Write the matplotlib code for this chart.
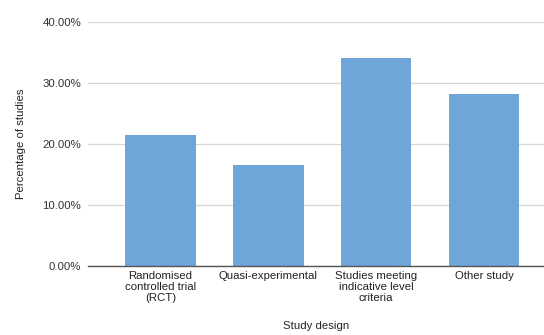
import matplotlib
matplotlib.use("Agg")
import matplotlib.pyplot as plt
from matplotlib.ticker import PercentFormatter

plt.rcParams['font.family'] = ['Liberation Sans', 'DejaVu Sans']

designs = ["Randomised\ncontrolled trial\n(RCT)", "Quasi-experimental",
           "Studies meeting\nindicative level\ncriteria", "Other study"]
share = [21.4, 16.5, 34.0, 28.1]
yticks = [0, 10, 20, 30, 40]

W, H = 544, 335
fig = plt.figure(figsize=(W / 100, H / 100), dpi=100)
# axes box in pixels: left 88, right 544, bottom 266 (from top), top 21.7
ax = fig.add_axes([88 / W, (H - 265.7) / H, (544 - 88) / W, (265.7 - 21.7) / H])

x = range(len(share))
ax.bar(x, share, width=0.654, color="#6fa6da", zorder=3)

ax.set_ylim(0, 40)
ax.set_xlim(-0.673, 3.557)
ax.set_yticks(yticks)
ax.yaxis.set_major_formatter(PercentFormatter(decimals=2))
ax.set_xticks(list(x))
ax.set_xticklabels(designs, fontsize=8.2, color="#222222", linespacing=1.12)
ax.tick_params(axis="y", labelsize=8.2, labelcolor="#333333", length=0, pad=5)
ax.tick_params(axis="x", length=0, pad=4)

ax.grid(axis="y", color="#d6d6d6", linewidth=0.9, zorder=0)
for side in ("top", "right", "left"):
    ax.spines[side].set_visible(False)
ax.spines["bottom"].set_color("#555555")
ax.spines["bottom"].set_linewidth(1.0)
ax.spines["bottom"].set_zorder(4)

ax.set_ylabel("Percentage of studies", fontsize=8.2, color="#222222", labelpad=12)
ax.set_xlabel("Study design", fontsize=8.2, color="#222222", labelpad=13)

fig.savefig("out.png", dpi=100)
